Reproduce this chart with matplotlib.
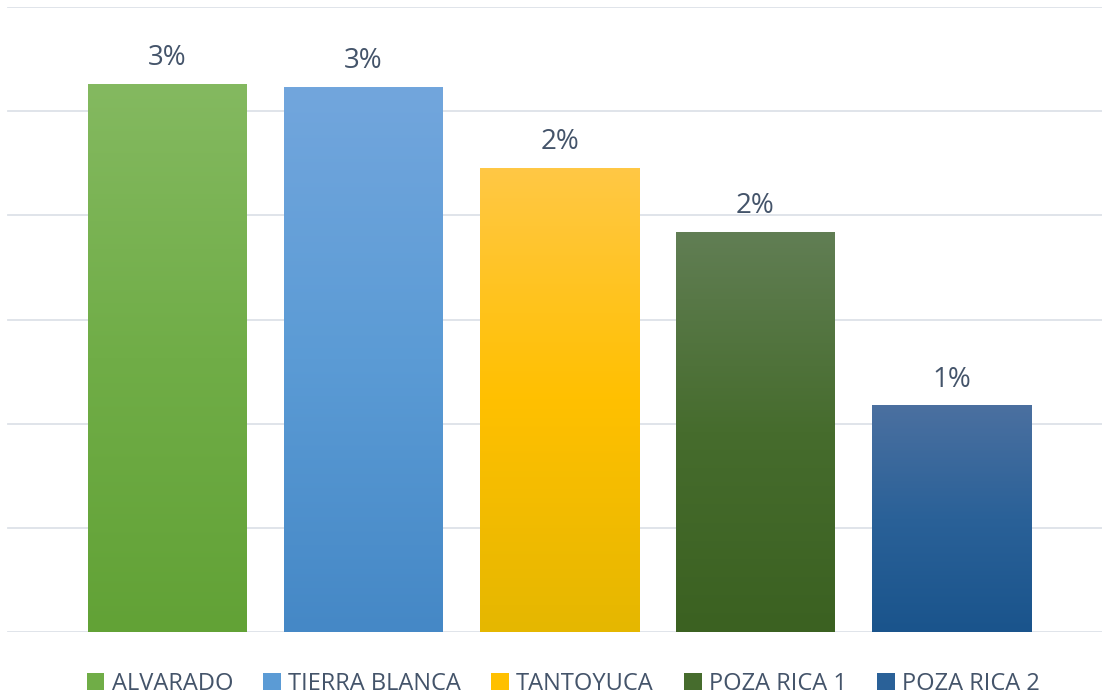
import numpy as np
import matplotlib
matplotlib.use('Agg')
import matplotlib.pyplot as plt
from matplotlib.colors import LinearSegmentedColormap
from matplotlib.patches import Patch

# --- データ ---
categories = ['ALVARADO', 'TIERRA BLANCA', 'TANTOYUCA', 'POZA RICA 1', 'POZA RICA 2']
values = [2.63, 2.615, 2.225, 1.92, 1.085]   # %
labels = ['3%', '3%', '2%', '2%', '1%']

# 色 (上, 中, 下)
top_colors = ['#84B960', '#72A6DD', '#FFC845', '#617E54', '#4B70A0']
mid_colors = ['#70AD47', '#5B9BD5', '#FFC000', '#466C2D', '#2A6198']
bot_colors = ['#62A236', '#4588C6', '#E5B700', '#3B6121', '#1A548C']

TEXT = '#44546A'
GRID = '#DDE2E8'
plt.rcParams['font.family'] = ['Open Sans', 'DejaVu Sans']

fig = plt.figure(figsize=(11.02, 6.98), dpi=100)
ax = fig.add_axes([0, 66 / 698, 1, (632 - 7) / 698])

W = 1102
spacing = 196.0
c0 = 167.5

x0_grid = 8 / W
for g in np.arange(0, 3.01, 0.5):
    ax.axhline(g, xmin=x0_grid, xmax=1, color=GRID, lw=1.3, zorder=1)

width = 159 / spacing
x = np.arange(len(categories))
bars = ax.bar(x, values, width=width, color='none', zorder=2)

grad = np.linspace(0, 1, 256).reshape(-1, 1)
for i, b in enumerate(bars):
    cmap = LinearSegmentedColormap.from_list(
        f'g{i}', [bot_colors[i], mid_colors[i], top_colors[i]])
    bx, bw, bh = b.get_x(), b.get_width(), b.get_height()
    ax.imshow(grad, extent=(bx, bx + bw, 0, bh), origin='lower',
              cmap=cmap, aspect='auto', zorder=3)
    ax.annotate(labels[i], (x[i], values[i]), xytext=(0, 19),
                textcoords='offset pixels', ha='center', va='baseline',
                fontsize=20, color=TEXT)

ax.set_xlim((0 - c0) / spacing, (W - c0) / spacing)
ax.set_ylim(0, 3.0)
ax.axis('off')

handles = [Patch(facecolor=mid_colors[i], edgecolor='none') for i in range(len(categories))]
fig.legend(handles, categories, loc='lower center', bbox_to_anchor=(0.511, -0.027),
           ncol=5, frameon=False, fontsize=17, labelcolor=TEXT,
           handlelength=0.75, handleheight=0.75, handletextpad=0.3,
           columnspacing=1.28)

fig.savefig('out.png', dpi=100)
